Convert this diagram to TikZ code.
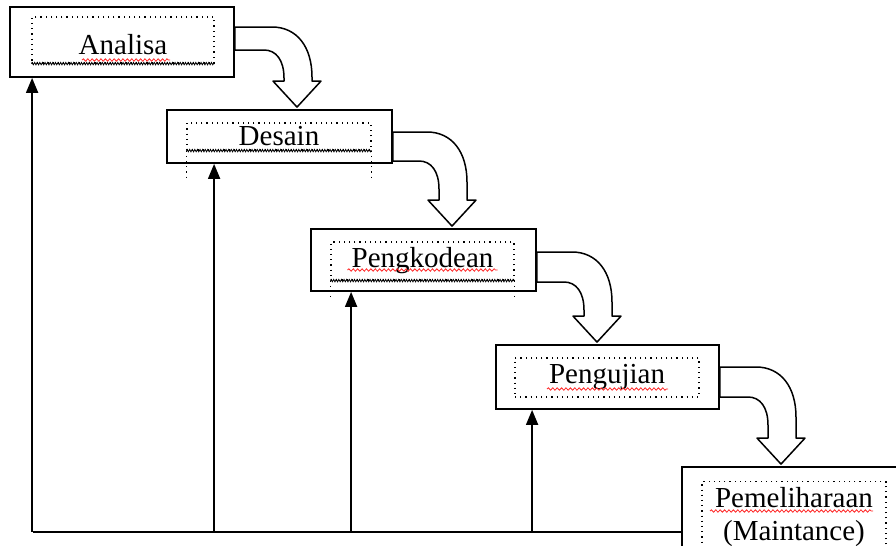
\documentclass[tikz,border=0pt]{standalone}
\usepackage{fontspec}
\setmainfont{Liberation Serif}
\usetikzlibrary{arrows.meta,calc,decorations.pathmorphing}

% panah blok lengkung: #1 asal, #2 tujuan, #3/#4 tepi atas/bawah dari #1.east, #5 geser ujung dari #2.north
\newcommand\panah[5]{%
 \path ($(#1.east)+(0,#3)$) coordinate (p1) ($(#1.east)+(0,#4)$) coordinate (p2)
       ($(#2.north)+(#5,-2)$) coordinate (tp) ($(tp)+(0,-26)$) coordinate (hb)
       ($(hb)+(15,0)$) coordinate (ob) ($(hb)+(-13,0)$) coordinate (ib)
       (ob |- p1) coordinate (oc) (ib |- p2) coordinate (ic);
 \draw[blok] (p1) -- ($(oc)+(-40,0)$) .. controls ($(oc)+(-15,0)$) and ($(oc)+(0,20)$) .. ($(oc)+(0,50)$) -- (ob)
   -- ($(hb)+(24,0)$) -- (tp) -- ($(hb)+(-24,0)$) -- (ib) -- ($(ic)+(0,28)$)
   .. controls ($(ic)+(0,10)$) and ($(ic)+(-8,0)$) .. ($(ic)+(-20,0)$) -- (p2) -- cycle;}

\begin{document}
\begin{tikzpicture}[x=0.5pt,y=-0.5pt,>={Triangle[width=6pt,length=7.5pt]},font=\fontsize{14.5}{16.5}\selectfont]
\tikzstyle{kotak}=[draw,line width=0.9pt,minimum width=112.5pt,inner sep=0pt]
\tikzstyle{teks}=[draw,dotted,line width=0.6pt,minimum width=92pt,inner sep=0pt]
\tikzstyle{blok}=[draw,fill=white,line width=0.75pt,line join=round]
\tikzstyle{gerigi}=[decorate,decoration={zigzag,amplitude=0.6pt,segment length=1.3pt},line width=0.4pt]
\tikzstyle{ejaan}=[red!85,line width=0.4pt,decorate,decoration={snake,amplitude=0.6pt,segment length=2.2pt}]
\tikzstyle{balik}=[line width=0.9pt]
\useasboundingbox (0,0) rectangle (896,546); \clip (0,0) rectangle (896,546);
% tahapan
\node[kotak,minimum width=112pt,minimum height=35pt] (analisa) at (122,42) {};
\node[teks,minimum width=91pt,minimum height=23pt,text height=15pt] (analisa-t) at (123,40) {Analisa};
\node[kotak,minimum height=26.5pt] (desain) at (279.5,136.5) {};
\node[teks,minimum height=13.5pt] (desain-t) at (279,136.5) {Desain};
\node[kotak,minimum height=31pt] (pengkodean) at (423.5,260) {};
\node[teks,minimum width=91.5pt,minimum height=19pt] (pengkodean-t) at (422.5,261) {Pengkodean};
\node[kotak,minimum width=111.5pt,minimum height=32pt] (pengujian) at (607.5,377) {};
\node[teks,minimum height=19.5pt] (pengujian-t) at (607,377.5) {Pengujian};
\node[kotak,minimum height=100pt] (pemeliharaan) at (794.5,567) {};
\node[teks,anchor=north,inner ysep=3pt,align=center] (pemeliharaan-t) at (794,481) {Pemeliharaan\\(Maintance)};
% bingkai teks terpilih
\draw[gerigi] (analisa-t.south west) -- (analisa-t.south east);
\draw[gerigi] (desain-t.south west) -- (desain-t.south east);
\draw[gerigi] (pengkodean-t.south west) -- (pengkodean-t.south east);
\draw[dotted,line width=0.6pt] (desain-t.south west) -- ++(0,30) (desain-t.south east) -- ++(0,30);
\draw[dotted,line width=0.6pt] (pengkodean-t.south west) -- ++(0,18) (pengkodean-t.south east) -- ++(0,18);
\draw[ejaan] ($(analisa-t)+(-41,20)$) -- ++(88,0);
\draw[ejaan] ($(pengkodean-t)+(-75,9)$) -- ++(150,0);
\draw[ejaan] ($(pengujian-t)+(-60,11.5)$) -- ++(121,0);
\draw[ejaan] ($(pemeliharaan-t.north)+(-84,30)$) -- ++(163,0);
% aliran
\panah{analisa}{desain}{-15}{8}{17.5}
\panah{desain}{pengkodean}{-4.5}{24.5}{28.5}
\panah{pengkodean}{pengujian}{-8}{22}{-10.5}
\panah{pengujian}{pemeliharaan}{-10}{20}{-13.5}
% umpan balik
\coordinate (kiri) at (33,532);
\draw[balik] (kiri) -- (kiri -| pemeliharaan.west);
\foreach \n/\dx in {analisa/23,desain/48,pengkodean/41,pengujian/37}{
  \path ($(\n.south west)+(\dx,0)$) coordinate (atas);
  \draw[balik,->] (atas |- kiri) -- (atas);}
\end{tikzpicture}
\end{document}
